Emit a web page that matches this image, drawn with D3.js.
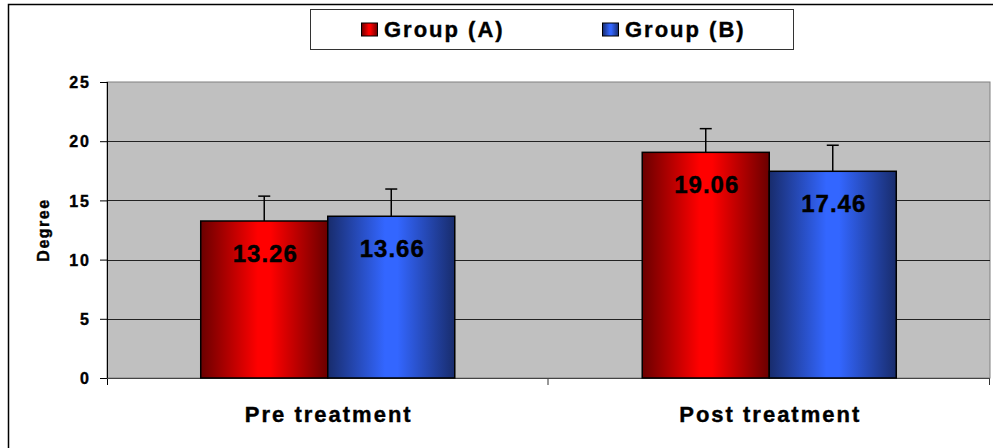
<!DOCTYPE html>
<html lang="en">
<head>
  <meta charset="UTF-8">
  <title>Degree chart</title>
  <script src="https://d3js.org/d3.v7.min.js"></script>
  <style>
    body { margin: 0; background: #fff; }
    svg { display: block; }
    svg text { font-family: "Liberation Sans", Arial, sans-serif; font-weight: bold; fill: #000; stroke: #000; stroke-width: 0.4px; }
  </style>
</head>
<body>
  <div id="chart"></div>
  <script>
    const categories = ["Pre treatment", "Post treatment"];
    const groups = ["Group (A)", "Group (B)"];
    const groupA = [13.26, 19.06];
    const groupB = [13.66, 17.46];
    const errA = [2.1, 2.0];
    const errB = [2.3, 2.2];
    const yTicks = [0, 5, 10, 15, 20, 25];

    const width = 993, height = 448;
    const plot = { left: 107, right: 990, top: 82, bottom: 378 };

    const svg = d3.select("#chart").append("svg")
        .attr("width", width)
        .attr("height", height);

    const defs = svg.append("defs");
    const gradients = [
      { id: "gradA", edge: "#6a0000", mid: "#ff0000" },
      { id: "gradB", edge: "#182c6c", mid: "#3366ff" }
    ];
    gradients.forEach(g => {
      const lg = defs.append("linearGradient").attr("id", g.id)
          .attr("x1", "0%").attr("x2", "100%").attr("y1", "0%").attr("y2", "0%");
      lg.append("stop").attr("offset", "0%").attr("stop-color", g.edge);
      lg.append("stop").attr("offset", "45%").attr("stop-color", g.mid);
      lg.append("stop").attr("offset", "55%").attr("stop-color", g.mid);
      lg.append("stop").attr("offset", "100%").attr("stop-color", g.edge);
    });

    // outer frame (runs off the right and bottom)
    svg.append("path")
        .attr("d", `M8.5,${height + 5} V4.5 H${width + 5}`)
        .attr("fill", "none")
        .attr("stroke", "#000")
        .attr("stroke-width", 1.5);

    const x0 = d3.scaleBand().domain(categories).range([plot.left, plot.right]);
    const x1 = d3.scaleBand().domain(groups).range([0, x0.bandwidth()]).paddingOuter(0.738);
    const y = d3.scaleLinear().domain([0, 25]).range([plot.bottom, plot.top]);

    // plot background
    svg.append("rect")
        .attr("x", plot.left).attr("y", plot.top)
        .attr("width", plot.right - plot.left).attr("height", plot.bottom - plot.top)
        .attr("fill", "#c0c0c0")
        .attr("stroke", "#808080");

    // gridlines
    svg.append("g").selectAll("line")
        .data(yTicks.filter(d => d > 0 && d < 25))
        .enter().append("line")
        .attr("x1", plot.left).attr("x2", plot.right)
        .attr("y1", d => Math.round(y(d)) + 0.5).attr("y2", d => Math.round(y(d)) + 0.5)
        .attr("stroke", "#222");

    // y axis
    const yAxis = svg.append("g")
        .attr("transform", `translate(${plot.left},0)`)
        .call(d3.axisLeft(y).tickValues(yTicks).tickSize(7).tickPadding(0).tickFormat(d3.format("d")));
    yAxis.attr("font-family", null).attr("font-size", null);
    yAxis.select(".domain").attr("d", `M0.5,${plot.top}V${plot.bottom + 7}`).attr("stroke", "#000");
    yAxis.selectAll(".tick line").attr("stroke", "#000");
    yAxis.selectAll(".tick text")
        .attr("x", -16)
        .attr("dy", "0.36em")
        .style("font-size", "16px")
        .style("letter-spacing", "2px");

    // x axis ticks at category boundaries
    svg.append("g").selectAll("line")
        .data([x0.range()[0] + x0.bandwidth(), plot.right])
        .enter().append("line")
        .attr("x1", d => d - 0.5).attr("x2", d => d - 0.5)
        .attr("y1", plot.bottom).attr("y2", plot.bottom + 7)
        .attr("stroke", "#333");
    svg.append("line")
        .attr("x1", plot.left).attr("x2", plot.right)
        .attr("y1", plot.bottom + 0.5).attr("y2", plot.bottom + 0.5)
        .attr("stroke", "#444");

    // bars
    const rows = [];
    categories.forEach((c, i) => {
      rows.push({ cat: c, group: groups[0], value: groupA[i], err: errA[i], fill: "url(#gradA)" });
      rows.push({ cat: c, group: groups[1], value: groupB[i], err: errB[i], fill: "url(#gradB)" });
    });

    const barG = svg.append("g");

    // error bars (upper only)
    rows.forEach(d => {
      const cx = x0(d.cat) + x1(d.group) + x1.bandwidth() / 2;
      barG.append("line")
          .attr("x1", cx).attr("x2", cx)
          .attr("y1", y(d.value)).attr("y2", y(d.value + d.err))
          .attr("stroke", "#000").attr("stroke-width", 1.5);
      barG.append("line")
          .attr("x1", cx - 6).attr("x2", cx + 6)
          .attr("y1", y(d.value + d.err)).attr("y2", y(d.value + d.err))
          .attr("stroke", "#000").attr("stroke-width", 1.5);
    });

    barG.selectAll("rect")
        .data(rows)
        .enter().append("rect")
        .attr("x", d => x0(d.cat) + x1(d.group))
        .attr("y", d => y(d.value))
        .attr("width", x1.bandwidth())
        .attr("height", d => y(0) - y(d.value))
        .attr("fill", d => d.fill)
        .attr("stroke", "#000")
        .attr("stroke-width", 1.5);

    barG.selectAll("text")
        .data(rows)
        .enter().append("text")
        .attr("x", d => x0(d.cat) + x1(d.group) + x1.bandwidth() / 2 + 1)
        .attr("y", d => y(d.value) + 41)
        .attr("text-anchor", "middle")
        .style("font-size", "24px")
        .style("letter-spacing", "1px")
        .text(d => d.value.toFixed(2));

    // category labels
    svg.append("g").selectAll("text")
        .data(categories)
        .enter().append("text")
        .attr("x", d => x0(d) + x0.bandwidth() / 2 + 1)
        .attr("y", 422)
        .attr("text-anchor", "middle")
        .style("font-size", "22px")
        .style("letter-spacing", "2px")
        .text(d => d);

    // y axis title
    svg.append("text")
        .attr("transform", "translate(49,230) rotate(-90)")
        .attr("text-anchor", "middle")
        .style("font-size", "16px")
        .style("letter-spacing", "1.5px")
        .text("Degree");

    // legend
    const legend = svg.append("g");
    legend.append("rect")
        .attr("x", 310.5).attr("y", 9.5)
        .attr("width", 483).attr("height", 40)
        .attr("fill", "#fff")
        .attr("stroke", "#333");
    const legendX = [361, 602];
    groups.forEach((g, i) => {
      legend.append("rect")
          .attr("x", legendX[i] + 0.5).attr("y", 23)
          .attr("width", 16).attr("height", 13)
          .attr("fill", "url(#" + gradients[i].id + ")")
          .attr("stroke", "#000");
      legend.append("text")
          .attr("x", legendX[i] + 23)
          .attr("y", 37)
          .style("font-size", "22px")
          .style("letter-spacing", "2px")
          .text(g);
    });
  </script>
</body>
</html>
